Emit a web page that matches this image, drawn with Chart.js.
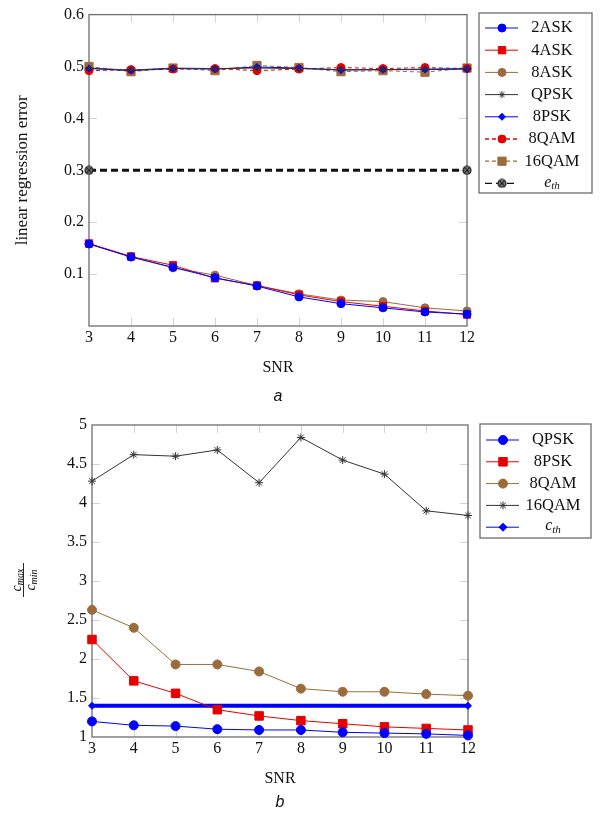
<!DOCTYPE html>
<html>
<head>
<meta charset="utf-8">
<script src="https://cdn.jsdelivr.net/npm/chart.js@4.4.0/dist/chart.umd.min.js"></script>
<style>
html, body { margin: 0; padding: 0; background: #fff; }
#wrapA { position: absolute; left: 0; top: 0; width: 601px; height: 410px; }
#wrapB { position: absolute; left: 0; top: 410px; width: 601px; height: 404px; }
</style>
</head>
<body>
<div id="wrapA"><canvas id="chartA"></canvas></div>
<div id="wrapB"><canvas id="chartB"></canvas></div>
<script>
// x values (SNR)
var snr = ['3', '4', '5', '6', '7', '8', '9', '10', '11', '12'];

// figure a: linear regression error
var ask2 = [0.158, 0.133, 0.113, 0.093, 0.077, 0.056, 0.043, 0.035, 0.027, 0.023];
var ask4 = [0.159, 0.134, 0.117, 0.092, 0.078, 0.060, 0.047, 0.038, 0.029, 0.022];
var ask8 = [0.158, 0.133, 0.112, 0.098, 0.078, 0.062, 0.050, 0.047, 0.035, 0.029];
var qpskA = [0.497, 0.493, 0.497, 0.496, 0.497, 0.496, 0.494, 0.494, 0.495, 0.496];
var psk8A = [0.496, 0.492, 0.496, 0.495, 0.499, 0.497, 0.493, 0.494, 0.494, 0.495];
var qam8A = [0.492, 0.494, 0.495, 0.496, 0.492, 0.495, 0.498, 0.496, 0.498, 0.496];
var qam16A = [0.500, 0.490, 0.497, 0.492, 0.502, 0.498, 0.490, 0.492, 0.489, 0.497];
var eth = [0.3, 0.3, 0.3, 0.3, 0.3, 0.3, 0.3, 0.3, 0.3, 0.3];

// figure b: cmax / cmin
var qpskB = [1.20, 1.15, 1.14, 1.10, 1.09, 1.09, 1.06, 1.05, 1.04, 1.02];
var psk8B = [2.25, 1.72, 1.56, 1.35, 1.27, 1.21, 1.17, 1.13, 1.11, 1.09];
var qam8B = [2.63, 2.40, 1.93, 1.93, 1.84, 1.62, 1.58, 1.58, 1.55, 1.53];
var qam16B = [4.28, 4.62, 4.60, 4.68, 4.26, 4.84, 4.55, 4.37, 3.90, 3.84];
var cth = [1.4, 1.4, 1.4, 1.4, 1.4, 1.4, 1.4, 1.4, 1.4, 1.4];

var blue = '#0000ff', red = '#e60000', brown = '#9c6b3c', black = '#333333';
var serif = '"Liberation Serif", "DejaVu Serif", serif';

// circle with a cross marker
function otimes() {
    var c = document.createElement('canvas');
    c.width = 10; c.height = 10;
    var g = c.getContext('2d');
    g.fillStyle = '#777'; g.strokeStyle = '#222'; g.lineWidth = 1.2;
    g.beginPath(); g.arc(5, 5, 4, 0, Math.PI * 2); g.fill(); g.stroke();
    g.beginPath();
    g.moveTo(2.2, 2.2); g.lineTo(7.8, 7.8); g.moveTo(7.8, 2.2); g.lineTo(2.2, 7.8);
    g.stroke();
    return c;
}
var otimesImg = otimes();

function endsOnly(r) {
    return function(ctx) {
        return (ctx.dataIndex === 0 || ctx.dataIndex === snr.length - 1) ? r : 0;
    };
}

function series(label, data, color, style, radius, dash, width) {
    return {
        label: label, data: data,
        borderColor: color, backgroundColor: color,
        borderWidth: width || 1, borderDash: dash || [],
        pointStyle: style, pointRadius: radius, pointBorderWidth: 1,
        pointBackgroundColor: color, pointBorderColor: color,
        legendRadius: typeof radius === 'number' ? radius : 4,
        tension: 0, clip: false
    };
}

// axis box with light inward ticks
var boxPlugin = {
    id: 'box',
    beforeDatasetsDraw: function(chart) {
        var a = chart.chartArea, ctx = chart.ctx;
        var xs = chart.scales.x, ys = chart.scales.y;
        ctx.save();
        ctx.strokeStyle = '#d4d4d4';
        ctx.lineWidth = 1;
        ctx.beginPath();
        for (var i = 1; i < xs.ticks.length - 1; i++) {
            var px = Math.round(xs.getPixelForTick(i)) + 0.5;
            ctx.moveTo(px, a.top); ctx.lineTo(px, a.top + 8);
            ctx.moveTo(px, a.bottom); ctx.lineTo(px, a.bottom - 8);
        }
        for (var j = 0; j < ys.ticks.length; j++) {
            var py = Math.round(ys.getPixelForTick(j)) + 0.5;
            if (py < a.top + 2 || py > a.bottom - 2) continue;
            ctx.moveTo(a.left, py); ctx.lineTo(a.left + 8, py);
            ctx.moveTo(a.right, py); ctx.lineTo(a.right - 8, py);
        }
        ctx.stroke();
        ctx.strokeStyle = '#6e6e6e';
        ctx.lineWidth = 1.3;
        ctx.strokeRect(a.left, a.top, a.right - a.left, a.bottom - a.top);
        ctx.restore();
    }
};

function drawLabel(ctx, label, cx, cy) {
    var parts = label.split('_');
    if (parts.length === 1) {
        ctx.font = '16.5px ' + serif;
        ctx.textAlign = 'center';
        ctx.fillText(label, cx, cy);
        return;
    }
    ctx.font = 'italic 16px ' + serif;
    var w1 = ctx.measureText(parts[0]).width;
    ctx.font = 'italic 11px ' + serif;
    var w2 = ctx.measureText(parts[1]).width;
    var x0 = cx - (w1 + w2) / 2;
    ctx.textAlign = 'left';
    ctx.font = 'italic 16px ' + serif;
    ctx.fillText(parts[0], x0, cy - 1);
    ctx.font = 'italic 11px ' + serif;
    ctx.fillText(parts[1], x0 + w1, cy + 3);
}

// boxed legend like the original
var legendPlugin = {
    id: 'boxLegend',
    afterDraw: function(chart, args, opts) {
        var ctx = chart.ctx;
        ctx.save();
        ctx.fillStyle = '#fff';
        ctx.fillRect(opts.x, opts.y, opts.w, opts.h);
        ctx.strokeStyle = '#6e6e6e';
        ctx.lineWidth = 1.3;
        ctx.strokeRect(opts.x, opts.y, opts.w, opts.h);
        chart.data.datasets.forEach(function(ds, i) {
            var y = opts.y + opts.first + i * opts.step;
            ctx.beginPath();
            ctx.strokeStyle = ds.borderColor;
            ctx.lineWidth = ds.borderDash.length ? 1.3 : 1;
            ctx.setLineDash(ds.borderDash);
            ctx.moveTo(opts.x + 6, y);
            ctx.lineTo(opts.x + 39, y);
            ctx.stroke();
            ctx.setLineDash([]);
            ctx.fillStyle = ds.borderColor;
            ctx.strokeStyle = ds.borderColor;
            ctx.lineWidth = 1;
            Chart.helpers.drawPoint(ctx, {
                pointStyle: ds.pointStyle,
                radius: ds.legendRadius, borderWidth: 1, rotation: 0
            }, opts.x + 23, y);
            ctx.fillStyle = '#111';
            ctx.textBaseline = 'middle';
            drawLabel(ctx, ds.label, opts.x + 73, y);
        });
        ctx.restore();
    }
};

// caption under the chart and the fraction y label of figure b
var extrasPlugin = {
    id: 'extras',
    afterDraw: function(chart, args, opts) {
        var ctx = chart.ctx, a = chart.chartArea;
        ctx.save();
        ctx.fillStyle = '#111';
        ctx.textAlign = 'center';
        ctx.textBaseline = 'middle';
        ctx.font = 'italic 16px "Liberation Sans", Arial, sans-serif';
        ctx.fillText(opts.caption, (a.left + a.right) / 2, opts.captionY);
        if (opts.frac) {
            ctx.translate(25, 170);
            ctx.rotate(-Math.PI / 2);
            ctx.textBaseline = 'alphabetic';
            ctx.textAlign = 'left';
            var part = function(sub, y) {
                ctx.font = 'italic 14px ' + serif;
                var w1 = ctx.measureText('c').width;
                ctx.font = 'italic 10px ' + serif;
                var w2 = ctx.measureText(sub).width;
                var x0 = -(w1 + w2) / 2;
                ctx.font = 'italic 14px ' + serif;
                ctx.fillText('c', x0, y);
                ctx.font = 'italic 10px ' + serif;
                ctx.fillText(sub, x0 + w1, y + 2);
            };
            part('max', -4);
            part('min', 10);
            ctx.fillRect(-17, -2, 34, 0.9);
        }
        ctx.restore();
    }
};

function scalesFor(yMin, yMax, step, yWidth, yTitle, fmt) {
    return {
        x: {
            offset: false,
            grid: { display: false, drawTicks: false },
            border: { display: false },
            ticks: { color: '#111', font: { family: serif, size: 16 }, padding: 2, maxRotation: 0 },
            title: { display: true, text: 'SNR', color: '#111', font: { family: serif, size: 16 }, padding: { top: 0, bottom: 4 } },
            afterFit: function(s) { s.height = 55; }
        },
        y: {
            min: yMin, max: yMax,
            grid: { display: false, drawTicks: false },
            border: { display: false },
            ticks: { stepSize: step, color: '#111', font: { family: serif, size: 16 }, padding: 5, callback: fmt },
            title: yTitle,
            afterFit: function(s) { s.width = yWidth; }
        }
    };
}

new Chart(document.getElementById('chartA'), {
    type: 'line',
    data: {
        labels: snr,
        datasets: [
            series('2ASK', ask2, blue, 'circle', 4),
            series('4ASK', ask4, red, 'rect', 5.2),
            series('8ASK', ask8, brown, 'circle', 4),
            series('QPSK', qpskA, black, 'star', 3.5),
            series('8PSK', psk8A, blue, 'rectRot', 3.5),
            series('8QAM', qam8A, red, 'circle', 4, [4, 3]),
            series('16QAM', qam16A, brown, 'rect', 5.8, [4, 3]),
            series('e_th', eth, '#111', otimesImg, endsOnly(5), [7, 4], 3)
        ]
    },
    options: {
        responsive: true,
        maintainAspectRatio: false,
        animation: false,
        layout: { padding: { left: 0, right: 134, top: 13, bottom: 29 } },
        plugins: {
            legend: { display: false },
            tooltip: { enabled: false },
            boxLegend: { x: 479, y: 13, w: 113, h: 180, first: 15, step: 22.2 },
            extras: { caption: 'a', captionY: 397, frac: false }
        },
        scales: scalesFor(0, 0.6, 0.1, 89,
            { display: true, text: 'linear regression error', color: '#111', font: { family: serif, size: 17 }, padding: { top: 12, bottom: 0 } },
            function(v) { return v === 0 ? '' : v.toFixed(1); })
    },
    plugins: [boxPlugin, legendPlugin, extrasPlugin]
});

new Chart(document.getElementById('chartB'), {
    type: 'line',
    data: {
        labels: snr,
        datasets: [
            series('QPSK', qpskB, blue, 'circle', 4.5),
            series('8PSK', psk8B, red, 'rect', 6),
            series('8QAM', qam8B, brown, 'circle', 4.5),
            series('16QAM', qam16B, black, 'star', 4),
            series('c_th', cth, blue, 'rectRot', endsOnly(3.5), [], 4)
        ]
    },
    options: {
        responsive: true,
        maintainAspectRatio: false,
        animation: false,
        layout: { padding: { left: 0, right: 133, top: 15, bottom: 22 } },
        plugins: {
            legend: { display: false },
            tooltip: { enabled: false },
            boxLegend: { x: 480, y: 14, w: 111, h: 114, first: 16, step: 21.8 },
            extras: { caption: 'b', captionY: 393, frac: true }
        },
        scales: scalesFor(1, 5, 0.5, 92, { display: false }, function(v) { return String(v); })
    },
    plugins: [boxPlugin, legendPlugin, extrasPlugin]
});
</script>
</body>
</html>
